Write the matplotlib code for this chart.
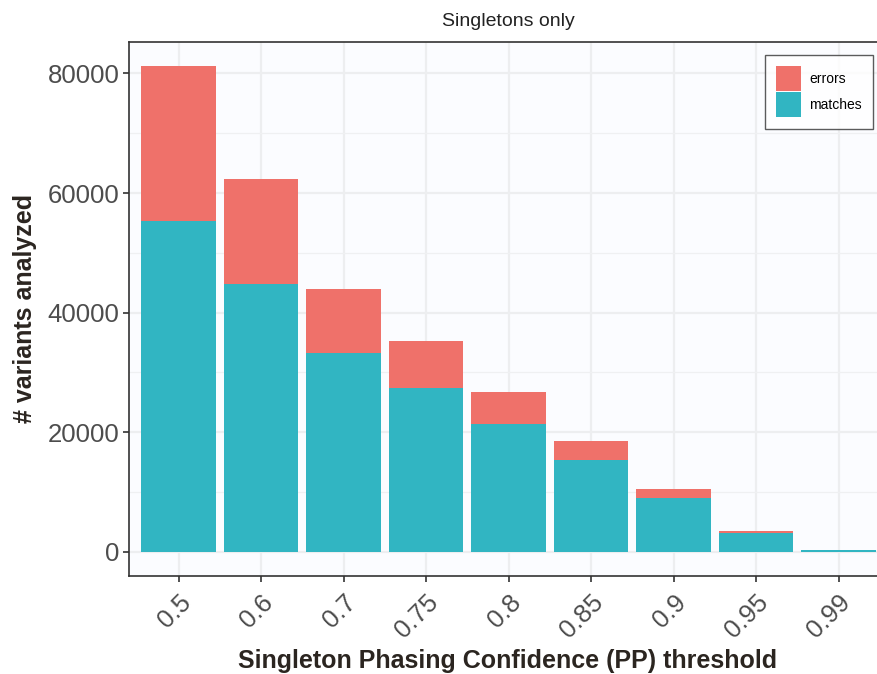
import matplotlib
matplotlib.use("Agg")
import matplotlib.pyplot as plt
import numpy as np
from matplotlib.patches import Patch

categories = ["0.5", "0.6", "0.7", "0.75", "0.8", "0.85", "0.9", "0.95", "0.99"]
matches = [55300, 44800, 33200, 27450, 21400, 15400, 9070, 3060, 250]
errors = [25900, 17500, 10700, 7800, 5300, 3150, 1450, 450, 120]

plt.rcParams['font.family'] = ['Liberation Sans', 'DejaVu Sans']

fig = plt.figure(figsize=(8.77, 6.74), dpi=100)
W, H = 877, 674
left, right, top, bottom = 129, 888, 42, 576
ax = fig.add_axes([left / W, 1 - bottom / H, (right - left) / W, (bottom - top) / H])

bg = '#FBFCFF'
ax.set_facecolor(bg)
x = np.arange(len(categories))
err_c = '#EF716A'
mat_c = '#31B5C2'
ax.bar(x, matches, width=0.9, color=mat_c, zorder=3)
ax.bar(x, errors, width=0.9, bottom=matches, color=err_c, zorder=3)

ax.set_xlim(-0.6, 8.6)
ax.set_ylim(-4060, 85260)
ax.set_xticks(x)
ax.set_xticklabels(categories, rotation=45, ha='right', va='top', rotation_mode='anchor')
ax.set_yticks([0, 20000, 40000, 60000, 80000])
ax.set_yticks([10000, 30000, 50000, 70000], minor=True)

ax.grid(True, which='major', color='#EDEEF0', linewidth=1.6, zorder=0)
ax.grid(True, which='minor', axis='y', color='#EFF0F2', linewidth=0.9, zorder=0)
ax.tick_params(axis='both', which='major', labelsize=18.5, labelcolor='#4D4D4D',
               color='#333333', length=4, width=1.2)
ax.tick_params(axis='y', which='minor', length=0)
ax.tick_params(axis='x', pad=6)
ax.tick_params(axis='y', pad=3)
for s in ax.spines.values():
    s.set_color('#333333')
    s.set_linewidth(1.2)

aw, ah = right - left, bottom - top
ax.set_ylabel('# variants analyzed', fontsize=18, fontweight='bold', color='#2b2520', va='center')
ax.yaxis.set_label_coords((25 - left) / aw, (bottom - 308) / ah)
ax.set_xlabel('Singleton Phasing Confidence (PP) threshold', fontsize=18, fontweight='bold',
              color='#2b2520', va='center')
ax.xaxis.set_label_coords((507.5 - left) / aw, (bottom - 661) / ah)
fig.text(508 / W, 1 - 22 / H, 'Singletons only', ha='center', va='center',
         fontsize=14, color='#222222')

handles = [Patch(facecolor=err_c, edgecolor='none', label='errors'),
           Patch(facecolor=mat_c, edgecolor='none', label='matches')]
leg = fig.legend(handles=handles, loc='upper left', bbox_to_anchor=(765 / W, 1 - 55 / H),
                 frameon=True, fancybox=False, edgecolor='#333333', fontsize=10,
                 handlelength=1.76, handleheight=2.39, handletextpad=0.6,
                 labelspacing=0.1, borderpad=0.8, borderaxespad=0)
leg.get_frame().set_linewidth(1.0)
leg.get_frame().set_facecolor('white')

fig.savefig('out.png', dpi=100)
